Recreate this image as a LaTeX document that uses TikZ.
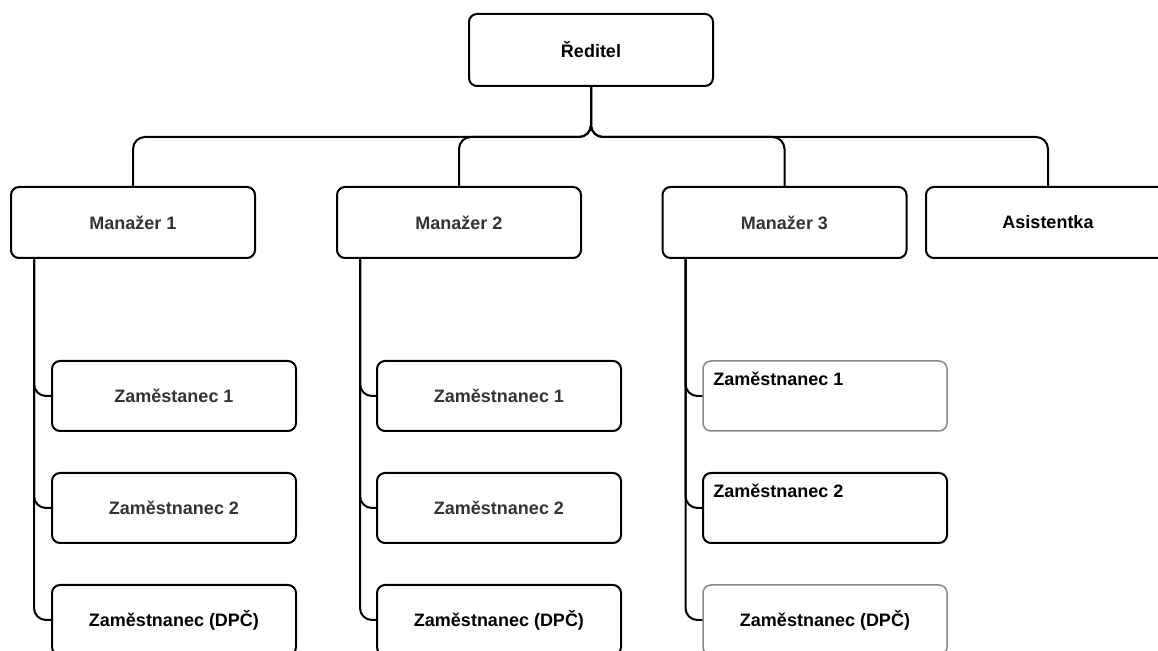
\documentclass[tikz,border=0pt]{standalone}
\usepackage{fontspec}
\setmainfont{Liberation Sans}
\newlength{\du}
\setlength{\du}{0.5pt}
\definecolor{dialinecolor}{rgb}{0.000000, 0.000000, 0.000000}
\definecolor{dialinetext}{rgb}{0.200000, 0.200000, 0.200000}
\definecolor{dialinegray}{rgb}{0.530000, 0.530000, 0.530000}
\tikzset{
  orgbox/.style={draw=dialinecolor, fill=white, line width=2\du, rounded corners=8\du,
    minimum width=244\du, minimum height=71\du, inner sep=0pt,
    font=\fontsize{9pt}{11pt}\selectfont\bfseries},
  empbox/.style={orgbox, minimum height=70\du},
  graybox/.style={empbox, draw=dialinegray, line width=1.5\du},
  orgtext/.style={inner sep=0pt, font=\fontsize{9pt}{11pt}\selectfont\bfseries},
  conn/.style={draw=dialinecolor, line width=2\du, rounded corners=12\du}
}

\begin{document}
\begin{tikzpicture}
  \pgftransformxscale{1.000000}
  \pgftransformyscale{-1.000000}
  \useasboundingbox (0\du,0\du) rectangle (1158\du,651\du);
  % top
  \node[orgbox, minimum height=72\du] (reditel) at (591\du,50\du) {Ředitel};
  % managers
  \node[orgbox, text=dialinetext] (man1) at (133\du,222.5\du) {Manažer 1};
  \node[orgbox, text=dialinetext] (man2) at (459\du,222.5\du) {Manažer 2};
  \node[orgbox, text=dialinetext] (man3) at (784.5\du,222.5\du) {Manažer 3};
  \node[orgbox] (asist) at (1048\du,222.5\du) {Asistentka};
  % column 1
  \node[empbox, text=dialinetext] (zam11) at (174\du,396\du) {Zaměstanec 1};
  \node[empbox, text=dialinetext] (zam12) at (174\du,508\du) {Zaměstnanec 2};
  \node[empbox] (zam13) at (174\du,620\du) {Zaměstnanec (DPČ)};
  % column 2
  \node[empbox, text=dialinetext] (zam21) at (499\du,396\du) {Zaměstnanec 1};
  \node[empbox, text=dialinetext] (zam22) at (499\du,508\du) {Zaměstnanec 2};
  \node[empbox] (zam23) at (499\du,620\du) {Zaměstnanec (DPČ)};
  % column 3
  \node[graybox] (zam31) at (825\du,396\du) {};
  \node[empbox] (zam32) at (825\du,508\du) {};
  \node[graybox] (zam33) at (825\du,620\du) {Zaměstnanec (DPČ)};
  \node[orgtext, anchor=north west] (zam31t) at (713\du,372\du) {Zaměstnanec 1};
  \node[orgtext, anchor=north west] (zam32t) at (713\du,484\du) {Zaměstnanec 2};
  % connectors
  \foreach \m in {man1,man2,man3,asist}
    \draw[conn] (reditel.south) -- ++(0,50\du) -| (\m.north);
  \foreach \m/\c in {man1/1,man2/2,man3/3}
    \foreach \r in {1,2,3}
      \draw[conn] ([xshift=24\du]\m.south west) |- (zam\c\r.west);
\end{tikzpicture}
\end{document}
